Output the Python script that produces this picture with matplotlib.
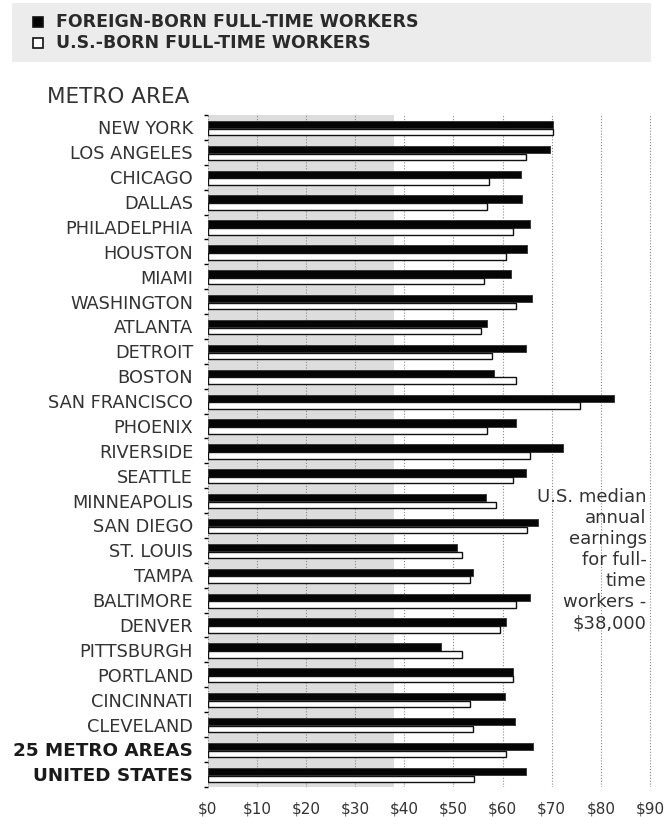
import matplotlib
matplotlib.use("Agg")
import matplotlib.pyplot as plt
from matplotlib.patches import Rectangle
import numpy as np

plt.rcParams['font.family'] = ['DejaVu Sans']

categories = ["NEW YORK", "LOS ANGELES", "CHICAGO", "DALLAS", "PHILADELPHIA",
              "HOUSTON", "MIAMI", "WASHINGTON", "ATLANTA", "DETROIT", "BOSTON",
              "SAN FRANCISCO", "PHOENIX", "RIVERSIDE", "SEATTLE", "MINNEAPOLIS",
              "SAN DIEGO", "ST. LOUIS", "TAMPA", "BALTIMORE", "DENVER",
              "PITTSBURGH", "PORTLAND", "CINCINNATI", "CLEVELAND",
              "25 METRO AREAS", "UNITED STATES"]
foreign_born = [70.2, 69.7, 63.7, 64.0, 65.6, 64.9, 61.7, 65.9, 56.8, 64.8, 58.3,
                82.7, 62.7, 72.2, 64.8, 56.6, 67.3, 50.8, 54.0, 65.6, 60.6,
                47.4, 62.1, 60.5, 62.5, 66.1, 64.8]
us_born = [70.3, 64.8, 57.2, 56.8, 62.1, 60.6, 56.3, 62.7, 55.6, 57.9, 62.7,
           75.8, 56.8, 65.6, 62.1, 58.7, 65.0, 51.7, 53.4, 62.7, 59.4,
           51.7, 62.1, 53.3, 53.9, 60.6, 54.1]
x_ticks = [0, 10, 20, 30, 40, 50, 60, 70, 80, 90]
x_tick_labels = ["$0", "$10", "$20", "$30", "$40", "$50", "$60", "$70", "$80", "$90"]
median_earnings = 38
legend_labels = ["FOREIGN-BORN FULL-TIME WORKERS", "U.S.-BORN FULL-TIME WORKERS"]
annotation = "U.S. median\nannual\nearnings\nfor full-\ntime\nworkers -\n$38,000"

W, H = 667, 817
fig = plt.figure(figsize=(W / 100, H / 100), dpi=100)

left_px, right_px, top_px, bottom_px = 207.7, 654.9, 115.0, 786.7
ax = fig.add_axes([left_px / W, 1 - bottom_px / H,
                   (right_px - left_px) / W, (bottom_px - top_px) / H])

n = len(categories)
y = np.arange(n)

ax.axvspan(0, median_earnings, color="#dddddd", zorder=0, lw=0)
for xt in x_ticks:
    ax.axvline(xt, color="#8a8a8a", lw=0.8, ls=(0, (1, 1.6)), zorder=1)

ax.barh(y - 0.115, foreign_born, height=0.30, color="#050505",
        edgecolor="#3a3a3a", linewidth=0.7, zorder=3)
ax.barh(y + 0.18, us_born, height=0.26, color="white",
        edgecolor="#111111", linewidth=1.0, zorder=3)

ax.set_xlim(0, 91)
ax.set_ylim(n - 0.5, -0.5)

for s in ax.spines.values():
    s.set_visible(False)

ax.set_xticks(x_ticks)
ax.set_xticklabels(x_tick_labels, fontsize=11, color="#333333")
ax.tick_params(axis="x", length=0, pad=11)

ax.set_yticks(y)
ax.set_yticklabels(categories, fontsize=12.8, color="#333333")
ax.tick_params(axis="y", which="major", length=0, pad=10.5)
ax.set_yticks(np.arange(n + 1) - 0.5, minor=True)
ax.tick_params(axis="y", which="minor", length=3, width=1.0, color="black",
               direction="out")
for lab in ax.get_yticklabels()[-2:]:
    lab.set_fontweight("bold")
    lab.set_fontsize(13.2)
    lab.set_color("#1a1a1a")

# annotation
ax.text(89.3, 17.4, annotation, ha="right", va="center", ma="right",
        fontsize=13, color="#333333", linespacing=1.22, zorder=5)

# legend block
fig.patches.append(Rectangle((12.3 / W, 1 - 61.7 / H), (650.7 - 12.3) / W,
                             (61.7 - 3.3) / H, transform=fig.transFigure,
                             facecolor="#ececec", edgecolor="none", zorder=0))
sq = 10
for i, (yc, fc) in enumerate([(21.7, "#050505"), (43.3, "white")]):
    fig.patches.append(Rectangle((33 / W, 1 - (yc + sq / 2) / H), sq / W, sq / H,
                                 transform=fig.transFigure, facecolor=fc,
                                 edgecolor="#111111", linewidth=1.2, zorder=2))
    fig.text(56 / W, 1 - yc / H, legend_labels[i], ha="left", va="center",
             fontsize=12.5, fontweight="bold", color="#2a2a2a")

fig.text(46.7 / W, 1 - 96.7 / H, "METRO AREA", ha="left", va="center",
         fontsize=15.5, color="#333333")

fig.savefig("out.png", dpi=100)
